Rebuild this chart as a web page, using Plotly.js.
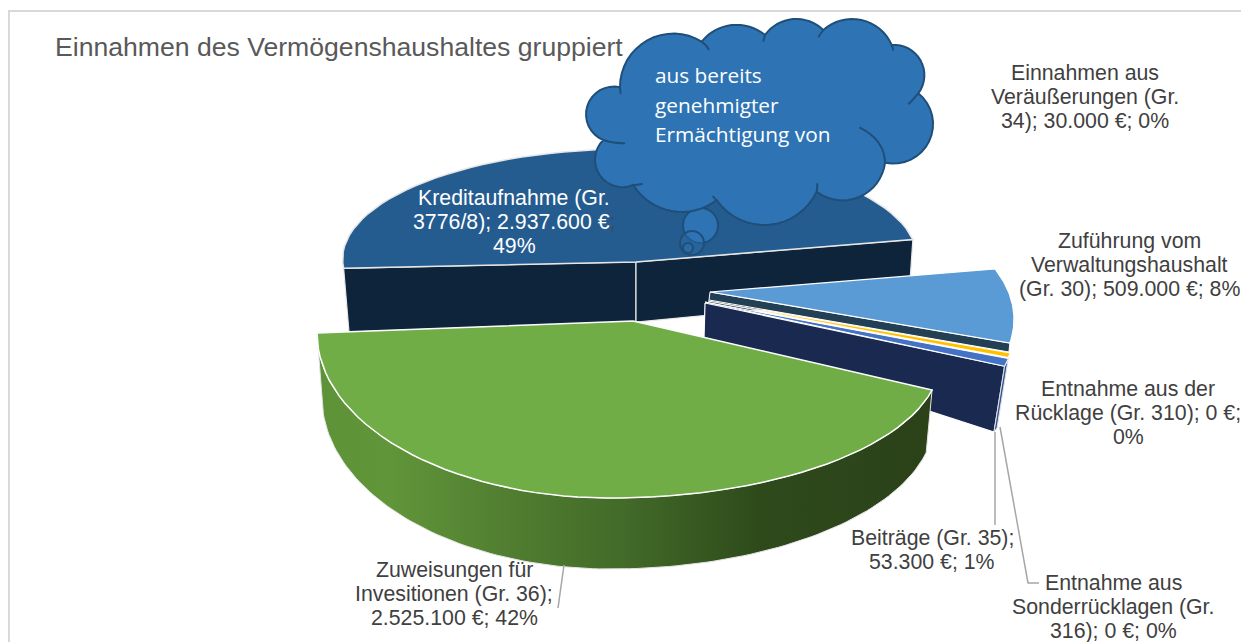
<!DOCTYPE html>
<html><head><meta charset="utf-8">
<script src="https://cdn.plot.ly/plotly-3.0.1.min.js"></script>
<style>html,body{margin:0;padding:0;background:#fff}#c{width:1241px;height:642px}</style>
</head><body><div id="c"></div>
<script>
const categories = ["Zuführung vom Verwaltungshaushalt (Gr. 30)","Entnahme aus der Rücklage (Gr. 310)","Entnahme aus Sonderrücklagen (Gr. 316)","Einnahmen aus Veräußerungen (Gr. 34)","Beiträge (Gr. 35)","Zuweisungen für Invesitionen (Gr. 36)","Kreditaufnahme (Gr. 3776/8)"];
const values = [509000,0,0,30000,53300,2525100,2937600];
const labels = [
 ["Zuführung vom","Verwaltungshaushalt","(Gr. 30); 509.000 €; 8%"],
 ["Entnahme aus der","Rücklage (Gr. 310); 0 €;","0%"],
 ["Entnahme aus","Sonderrücklagen (Gr.","316); 0 €; 0%"],
 ["Einnahmen aus","Veräußerungen (Gr.","34); 30.000 €; 0%"],
 ["Beiträge (Gr. 35);","53.300 €; 1%"],
 ["Zuweisungen für","Invesitionen (Gr. 36);","2.525.100 €; 42%"],
 ["Kreditaufnahme (Gr.","3776/8); 2.937.600 €<span style='color:#3a4a5a'>;</span>","49%"]];
const titleText = "Einnahmen des Vermögenshaushaltes gruppiert";
const cloudLines = ["aus bereits","genehmigter","Ermächtigung von"];

// ---- layout (pixel-like axis units) ----
const labelPos = [[1129,265],[1128,413],[1113,607],[1085,97],[932,550],[454,594],[514,222]];
const START = 79.8, total = values.reduce((a,b)=>a+b,0);
const rad = d => d*Math.PI/180;
const ang = []; { let t=START; values.forEach(v=>{ang.push([t,t+v/total*360]); t+=v/total*360;}); }
function arc(a,b,fn,n=60){const X=[],Y=[];for(let i=0;i<=n;i++){const p=fn(a+(b-a)*i/n);X.push(p[0]);Y.push(p[1]);}return [X,Y];}
const ell=(cx,cy,a,b)=>t=>[cx+a*Math.sin(rad(t)),cy-b*Math.cos(rad(t))];
const traces=[];
function poly(X,Y,fill,line,w,extra){traces.push(Object.assign({type:'scatter',mode:w?'lines':'none',x:X,y:Y,fill:'toself',fillcolor:fill,line:{color:line||fill,width:w||0},hoverinfo:'skip',showlegend:false},extra||{}));}
function wedge(ap,a,b,fn,fill,line,w){const [X,Y]=arc(a,b,fn);poly([ap[0],...X,ap[0]],[ap[1],...Y,ap[1]],fill,line,w);}

// Kredit: wall + top
const [k0,k1]=[ang[6][0],ang[6][1]];
const kE=ell(630,259,287.4,110);
const kL=kE(k0),kR=kE(k1),kA=[636,262];
poly([kL[0],kA[0],636,349,kL[0]],[kL[1],kA[1],322,332,kL[1]],'#0E243B','#e8e8e8',1.2);
poly([kA[0],kR[0],909,636,kA[0]],[kA[1],kR[1],296,322,kA[1]],'#0E243B','#e8e8e8',1.2);
wedge(kA,k0,k1,kE,'#255C8F','#e6e6e6',1.5);

// exploded right group
const ROT=-10.5, rE=ell(720,319.3,294,142.6), rE2=ell(720,329.3,294,142.6), rE3=ell(720,330.5,294,142.6);
const endB=rE3(ang[4][1]+ROT), begB=rE3(ang[4][0]+ROT);
poly([705,endB[0],994,704,705],[303,endB[1],432,338,303],'#19294F','#ffffff',1.2);
poly([begB[0],endB[0],994,997,begB[0]],[begB[1],endB[1],432,428,begB[1]],'#2F5597','#e0e0e0',1);
wedge([705,302],ang[4][0]+ROT,ang[4][1]+ROT,rE3,'#4472C4','#ffffff',1);
wedge([708,301],ang[3][0]+ROT,ang[3][1]+ROT,rE2,'#FFC000','#ffffff',0.8);
const lbEnd=rE(ang[0][1]+ROT);
poly([710,lbEnd[0],lbEnd[0]-1,709,710],[292,lbEnd[1],lbEnd[1]+9,300,292],'#223F54','#ffffff',1);
wedge([710,292],ang[0][0]+ROT,ang[0][1]+ROT,rE,'#5B9BD5','#ffffff',1.2);

// Zuweisungen: projected front arc (perspective, two halves)
const g0=ang[5][0],g1=ang[5][1],K=167.4/(g1-g0);
const theta=t=>102.6+(t-g0)*K;
const gTop=t=>{const h=theta(t);return h<180?[610+330*Math.sin(rad(h)),360-138*Math.cos(rad(h))]:[610+293*Math.sin(rad(h)),333-165*Math.cos(rad(h))];};
const gBot=t=>{const h=theta(t);return h<180?[610+324*Math.sin(rad(h)),420-149*Math.cos(rad(h))]:[610+288*Math.sin(rad(h)),397-172*Math.cos(rad(h))];};
const [tX,tY]=arc(g0,g1,gTop,120),[bX,bY]=arc(g1,g0,gBot,120);
poly([...tX,...bX,tX[0]],[...tY,...bY,tY[0]],'#5a8c37','#e4e4e4',1,{fillgradient:{type:'horizontal',colorscale:[[0,'#5e9238'],[0.12,'#609539'],[0.3,'#527f31'],[0.5,'#426a28'],[0.72,'#2e4a1b'],[1,'#2b4119']]}});
wedge([633,321],g0,g1,gTop,'#70AD47','#ffffff',1.5);

// ---- shapes: frame, leaders, cloud ----
const Z=p=>[p[0]/3+560,p[1]/3];
function circ3(A,B,C){const d=2*(A[0]*(B[1]-C[1])+B[0]*(C[1]-A[1])+C[0]*(A[1]-B[1]));
 const s=p=>p[0]*p[0]+p[1]*p[1];
 const ux=(s(A)*(B[1]-C[1])+s(B)*(C[1]-A[1])+s(C)*(A[1]-B[1]))/d, uy=(s(A)*(C[0]-B[0])+s(B)*(A[0]-C[0])+s(C)*(B[0]-A[0]))/d;
 return [ux,uy,Math.hypot(A[0]-ux,A[1]-uy)];}
function lobe(A,B,C){A=Z(A);B=Z(B);C=Z(C);const [ux,uy,r]=circ3(A,B,C);
 let a=Math.atan2(A[1]-uy,A[0]-ux),b=Math.atan2(B[1]-uy,B[0]-ux),c=Math.atan2(C[1]-uy,C[0]-ux);
 while(b<a)b+=2*Math.PI;while(c<b)c+=2*Math.PI;
 if(c-a>2*Math.PI){c=Math.atan2(C[1]-uy,C[0]-ux);while(b>a)b-=2*Math.PI;while(c>b)c-=2*Math.PI;}
 const out=[];for(let i=1;i<=16;i++){const q=a+(c-a)*i/16;out.push([ux+r*Math.cos(q),uy+r*Math.sin(q)]);}return out;}
const lobes=[[[180,262],[235,140],[425,125]],[[425,125],[520,75],[615,105]],[[615,105],[710,57],[790,90]],[[790,90],[880,57],[995,135]],[[995,135],[1093,230],[1075,280]],[[1075,280],[1117,350],[975,488]],[[975,488],[900,590],[770,575]],[[770,575],[610,675],[470,600]],[[470,600],[350,635],[220,555]],[[220,555],[105,480],[130,420]],[[130,420],[78,345],[180,262]]];
let cp='M'+Z(lobes[0][0]).map(v=>v.toFixed(1)).join(',');
lobes.forEach(l=>lobe(...l).forEach(p=>{cp+=' L'+p[0].toFixed(1)+','+p[1].toFixed(1);}));cp+=' Z';
const ticks=[[[425,125],[440,135],[447,150]],[[615,105],[612,115],[610,125]],[[790,90],[782,100],[775,112]],[[995,135],[998,142],[1000,152]],[[1075,280],[1060,298],[1045,313]],[[898,382],[975,420],[975,490]],[[770,575],[772,562],[772,550]],[[470,600],[463,595],[458,588]],[[220,555],[232,555],[248,551]],[[130,420],[160,430],[195,430]],[[180,262],[181,270],[182,282]]];
const CL='#1F4E79',CF='#2E74B5';
const shapes=[
 {type:'line',x0:9,y0:11,x1:1241,y1:11,line:{color:'#D9D9D9',width:2}},
 {type:'line',x0:9,y0:10,x1:9,y1:642,line:{color:'#D9D9D9',width:2}},
 {type:'path',path:'M995,432 L995,525',line:{color:'#A6A6A6',width:1.5}},
 {type:'path',path:'M1000,427 L1028,583 L1039,583',line:{color:'#A6A6A6',width:1.5}},
 {type:'path',path:'M564,565 L558,608',line:{color:'#A6A6A6',width:1.5}},
 {type:'circle',x0:683,y0:208,x1:718,y1:243,fillcolor:CF,line:{color:CL,width:2}},
 {type:'circle',x0:680,y0:231,x1:704,y1:255,fillcolor:'rgba(46,116,181,0.35)',line:{color:CL,width:2}},
 {type:'circle',x0:683,y0:243,x1:693,y1:253,fillcolor:'rgba(46,116,181,0.35)',line:{color:CL,width:2}},
 {type:'path',path:cp,fillcolor:CF,line:{color:CL,width:2}}
];
ticks.forEach(t=>{const a=Z(t[0]),b=Z(t[1]),c=Z(t[2]);shapes.push({type:'path',path:`M${a[0]},${a[1]} Q${b[0]},${b[1]} ${c[0]},${c[1]}`,line:{color:CL,width:2},fillcolor:'rgba(0,0,0,0)'});});

// ---- text ----
const FF='"Liberation Sans", Arial, sans-serif';
const ann=[{x:53,y:47,xref:'x',yref:'y',text:titleText,showarrow:false,xanchor:'left',yanchor:'middle',font:{family:FF,size:26.6,color:'#595959'}}];
labels.forEach((ls,i)=>ls.forEach((t,j)=>ann.push({x:labelPos[i][0],y:labelPos[i][1]+(j-(ls.length-1)/2)*24.2,xref:'x',yref:'y',text:t,showarrow:false,xanchor:'center',yanchor:'middle',align:'center',font:{family:FF,size:21.3,color:i===6?'#FFFFFF':'#404040'}})));
const cloudY=[75,105,134];
cloudLines.forEach((t,i)=>ann.push({x:653,y:cloudY[i],xref:'x',yref:'y',text:t,showarrow:false,xanchor:'left',yanchor:'middle',font:{family:'"Open Sans","Noto Sans",sans-serif',size:20.8,color:'#FFFFFF'}}));

Plotly.newPlot('c',traces,{width:1241,height:642,margin:{l:0,r:0,t:0,b:0},paper_bgcolor:'#fff',plot_bgcolor:'#fff',showlegend:false,hovermode:false,
 xaxis:{range:[0,1241],visible:false,fixedrange:true},yaxis:{range:[642,0],visible:false,fixedrange:true},shapes:shapes,annotations:ann},{displayModeBar:false,staticPlot:true});
</script></body></html>
